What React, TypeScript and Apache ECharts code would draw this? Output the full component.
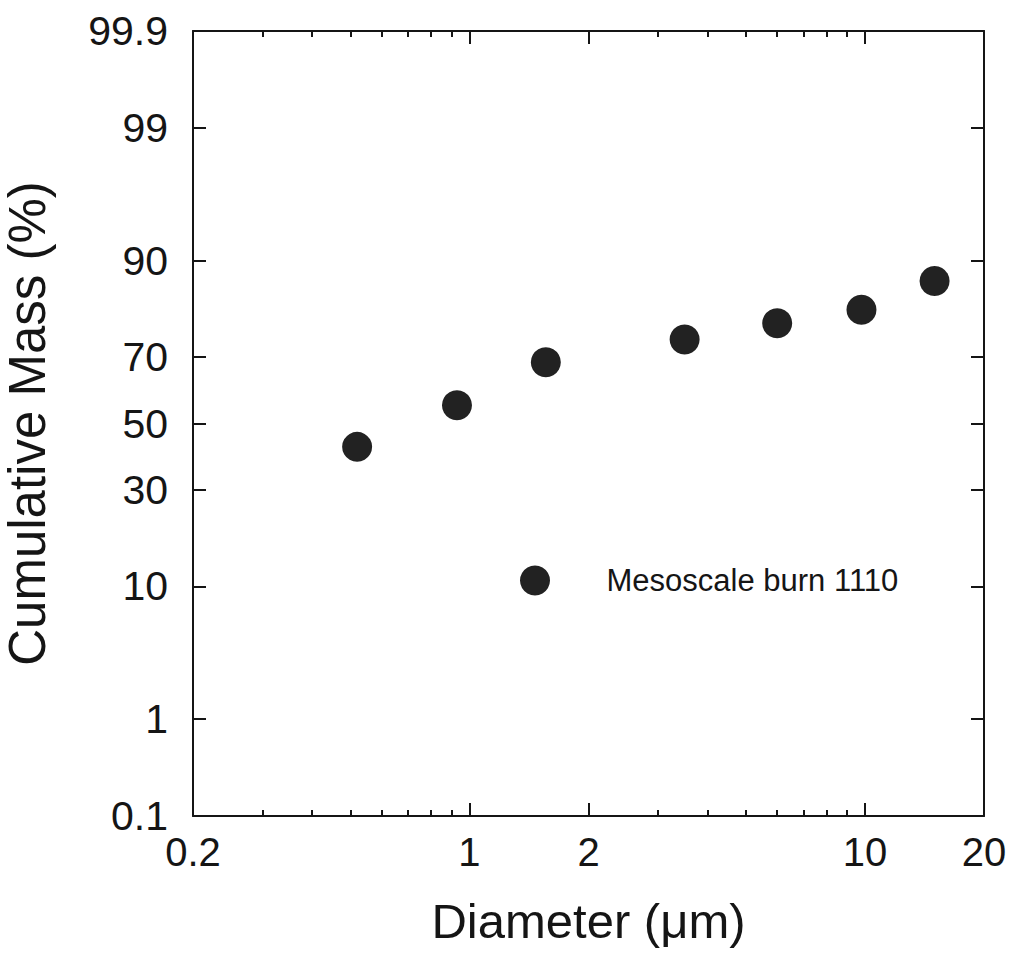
import React, { useEffect, useRef } from "react";
import * as echarts from "echarts";

// ---- data ----
const seriesName = "Mesoscale burn 1110";
const diameters = [0.52, 0.93, 1.56, 3.5, 6.0, 9.8, 15.0]; // µm
const cumulativeMass = [42.7, 55.7, 68.5, 74.6, 78.5, 81.5, 86.9]; // %
const xTickLabels = [0.2, 1, 2, 10, 20];
const xMinorTicks = [0.3, 0.4, 0.5, 0.6, 0.7, 0.8, 0.9, 3, 4, 5, 6, 7, 8, 9];
const yTickLabels = [0.1, 1, 10, 30, 50, 70, 90, 99, 99.9];

// inverse standard normal CDF (Acklam), used for the probability axis
function probit(p: number): number {
  const a = [-3.969683028665376e1, 2.209460984245205e2, -2.759285104469687e2, 1.38357751867269e2, -3.066479806614716e1, 2.506628277459239];
  const b = [-5.447609879822406e1, 1.615858368580409e2, -1.556989798598866e2, 6.680131188771972e1, -1.328068155288572e1];
  const c = [-7.784894002430293e-3, -3.223964580411365e-1, -2.400758277161838, -2.549671464308429, 4.374664141464968, 2.938163982698783];
  const d = [7.784695709041462e-3, 3.224671290700398e-1, 2.445134137142996, 3.754408661907416];
  const plow = 0.02425;
  const phigh = 1 - plow;
  if (p < plow) {
    const q = Math.sqrt(-2 * Math.log(p));
    return (((((c[0] * q + c[1]) * q + c[2]) * q + c[3]) * q + c[4]) * q + c[5]) /
      ((((d[0] * q + d[1]) * q + d[2]) * q + d[3]) * q + 1);
  }
  if (p <= phigh) {
    const q = p - 0.5;
    const r = q * q;
    return ((((((a[0] * r + a[1]) * r + a[2]) * r + a[3]) * r + a[4]) * r + a[5]) * q) /
      (((((b[0] * r + b[1]) * r + b[2]) * r + b[3]) * r + b[4]) * r + 1);
  }
  const q = Math.sqrt(-2 * Math.log(1 - p));
  return -(((((c[0] * q + c[1]) * q + c[2]) * q + c[3]) * q + c[4]) * q + c[5]) /
    ((((d[0] * q + d[1]) * q + d[2]) * q + d[3]) * q + 1);
}

const toX = (v: number) => Math.log10(v);
const toY = (pct: number) => probit(pct / 100);

const FONT = "'Liberation Sans', Arial, Helvetica, sans-serif";
const INK = "#151515";

export default function App() {
  const ref = useRef<HTMLDivElement>(null);

  useEffect(() => {
    if (!ref.current) return;
    const chart = echarts.init(ref.current, undefined, { renderer: "svg" });

    const xMin = toX(xTickLabels[0]);
    const xMax = toX(xTickLabels[xTickLabels.length - 1]);
    const yMin = toY(yTickLabels[0]);
    const yMax = toY(yTickLabels[yTickLabels.length - 1]);

    const xMajorVals = xTickLabels.map(toX);
    const xMinorVals = xMinorTicks.map(toX);
    const yMajorVals = yTickLabels.map(toY);

    const nearestLabel = (v: number, vals: number[], labels: number[]) => {
      let best = 0;
      for (let i = 1; i < vals.length; i++) {
        if (Math.abs(vals[i] - v) < Math.abs(vals[best] - v)) best = i;
      }
      return String(labels[best]);
    };

    const lineStyle = { color: INK, width: 2 };

    const makeX = (position: string, ticks: number[], len: number, labels: boolean, line: boolean) => ({
      type: "value",
      position,
      min: xMin,
      max: xMax,
      axisLine: { show: line, onZero: false, lineStyle },
      axisTick: { show: true, inside: true, length: len, customValues: ticks, lineStyle },
      axisLabel: {
        show: labels,
        customValues: xMajorVals,
        margin: 16,
        fontSize: 40,
        fontFamily: FONT,
        color: INK,
        formatter: (v: number) => nearestLabel(v, xMajorVals, xTickLabels),
      },
      splitLine: { show: false },
      minorTick: { show: false },
    });

    const makeY = (position: string, labels: boolean) => ({
      type: "value",
      position,
      min: yMin,
      max: yMax,
      axisLine: { show: true, onZero: false, lineStyle },
      axisTick: { show: true, inside: true, length: 13, customValues: yMajorVals, lineStyle },
      axisLabel: {
        show: labels,
        customValues: yMajorVals,
        margin: 25,
        fontSize: 41,
        fontFamily: FONT,
        color: INK,
        formatter: (v: number) => nearestLabel(v, yMajorVals, yTickLabels),
      },
      splitLine: { show: false },
    });

    const xAxes: any[] = [
      {
        ...makeX("bottom", xMajorVals, 13, true, true),
        name: "Diameter (\u03bcm)",
        nameLocation: "middle",
        nameGap: 80,
        nameTextStyle: { fontSize: 49, fontFamily: FONT, color: INK },
      },
      makeX("bottom", xMinorVals, 6, false, false),
      makeX("top", xMajorVals, 13, false, true),
      makeX("top", xMinorVals, 6, false, false),
    ];
    const yAxes: any[] = [
      {
        ...makeY("left", true),
        name: "Cumulative Mass (%)",
        nameLocation: "middle",
        nameGap: 140,
        nameTextStyle: { fontSize: 51, fontFamily: FONT, color: INK },
      },
      makeY("right", false),
    ];

    chart.setOption({
      animation: false,
      backgroundColor: "#ffffff",
      grid: {
        left: 193,
        right: 28,
        top: 31,
        bottom: 153,
        containLabel: false,
        outerBoundsMode: "none",
      },
      legend: {
        show: true,
        data: [seriesName],
        left: 520,
        top: 565,
        padding: 0,
        icon: "circle",
        itemWidth: 133,
        itemHeight: 30,
        selectedMode: false,
        textStyle: { fontSize: 31, fontFamily: FONT, color: INK },
      },
      xAxis: xAxes,
      yAxis: yAxes,
      series: [
        {
          name: seriesName,
          type: "scatter",
          xAxisIndex: 0,
          yAxisIndex: 0,
          symbol: "circle",
          symbolSize: 30,
          itemStyle: { color: "#222222", opacity: 1 },
          data: diameters.map((d, i) => [toX(d), toY(cumulativeMass[i])]),
        },
      ],
    });

    return () => chart.dispose();
  }, []);

  return (
    <div
      ref={ref}
      style={{ position: "fixed", left: 0, top: 0, width: 1012, height: 969 }}
    />
  );
}
